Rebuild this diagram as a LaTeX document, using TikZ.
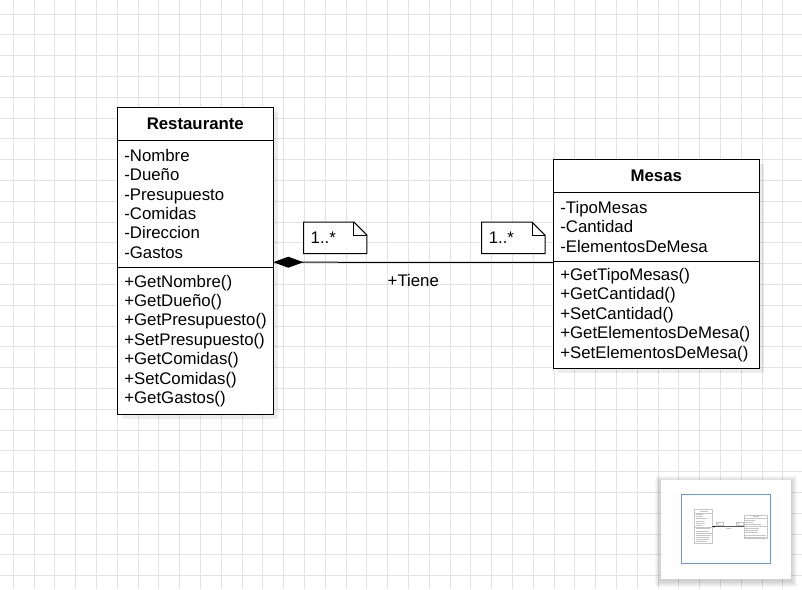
\documentclass[tikz,border=0pt]{standalone}
\usepackage{fontspec}
\setmainfont{Liberation Sans}
\usetikzlibrary{arrows.meta,positioning,backgrounds}
\definecolor{gridgray}{HTML}{E3E3E3}
\definecolor{viewblue}{HTML}{6A9AD0}
\definecolor{minigray}{HTML}{C6C6C6}
\newcommand{\umlfont}{\fontsize{16.8pt}{19.4pt}\selectfont}
\tikzset{
 gridline/.style={draw=gridgray,line width=1pt},
 classhead/.style={draw=black,fill=white,line width=1pt,minimum height=33pt,inner sep=0pt,
   outer sep=0pt,font=\umlfont\bfseries},
 classbody/.style={draw=black,fill=white,line width=1pt,align=left,inner xsep=7pt,inner ysep=0pt,
   outer sep=0pt},
 notebox/.style={minimum width=63pt,minimum height=31pt,text width=49pt,inner xsep=7pt,align=left},
 noteline/.style={draw=black,fill=white,line width=1pt},
 compos/.style={{Diamond[length=30pt,width=11pt]}-,line width=1pt,draw=black},
 boxshadow/.style={fill=black,opacity=0.07},
 ministub/.style={draw=minigray,line width=0.8pt},
 minibox/.style={draw=minigray,line width=0.6pt}
}

\begin{document}
\begin{tikzpicture}[x=1pt,y=-1pt,font=\umlfont]
 \useasboundingbox (0,0) rectangle (802,589);
 % classes
 \node[classhead,minimum width=156pt] (resthead) at (195.3,123.7) {Restaurante};
 \node[classbody,below=0pt of resthead,text width=142pt,minimum height=127.3pt] (restattr)
   {-Nombre\\-Dueño\\-Presupuesto\\-Comidas\\-Direccion\\-Gastos};
 \node[classbody,below=0pt of restattr,text width=142pt,minimum height=146.7pt] (restmeth)
   {+GetNombre()\\+GetDueño()\\+GetPresupuesto()\\+SetPresupuesto()\\+GetComidas()\\+SetComidas()\\+GetGastos()};
 \node[classhead,minimum width=206pt] (mesashead) at (656.3,175.7) {Mesas};
 \node[classbody,below=0pt of mesashead,text width=192pt,minimum height=69.4pt] (mesasattr)
   {-TipoMesas\\-Cantidad\\-ElementosDeMesa};
 \node[classbody,below=0pt of mesasattr,text width=192pt,minimum height=106.6pt] (mesasmeth)
   {+GetTipoMesas()\\+GetCantidad()\\+SetCantidad()\\+GetElementosDeMesa()\\+SetElementosDeMesa()};
 % association
 \node[notebox] (lnote) at (335.2,237.8) {1..*};
 \node[notebox] (rnote) at (513.3,237.8) {1..*};
 \draw[compos] ([yshift=5.3pt]restattr.south east) -- ([yshift=-0.8pt]mesasattr.south west)
   node[midway,yshift=-18pt] (tiene) {+Tiene};
 % outline view
 \node[fill=white,minimum width=130pt,minimum height=99pt,inner sep=0pt,outer sep=0pt] (minimap) at (726,529.5) {};
 \node[draw=viewblue,line width=1pt,minimum width=89.4pt,minimum height=69pt,inner sep=0pt] (viewport) at (726,529) {};
 \begin{scope}[shift={(681.5,497)},scale=0.113]
  \draw[minibox] (117.3,107.3) rectangle (273.3,414) (117.3,140) -- (273.3,140) (117.3,267.3) -- (273.3,267.3);
  \draw[minibox] (553.3,159) rectangle (759.3,368.3) (553.3,192.3) -- (759.3,192.3) (553.3,261.7) -- (759.3,261.7);
  \draw[minibox] (304.3,222.3) rectangle (366,253.3) (481,222.3) rectangle (545.7,253.3);
  \draw[ministub] (160,123.7) -- (231,123.7) (630,175.7) -- (683,175.7)
    (311,237) -- ++(25,0) (488,237) -- ++(25,0) (390,280) -- ++(47,0);
  \foreach \y/\l in {154/65,173.5/55,193/105,212.4/75,231.8/82,251.2/60,281.7/130,300.9/120,
    320.1/143,339.3/140,358.5/118,377.7/115,396.9/102}
   \draw[ministub] (124,\y) -- ++(\l,0);
  \foreach \y/\l in {206.7/90,226.2/75,245.7/145,276.7/130,296.3/115,315.9/115,335.5/188,355.1/188}
   \draw[ministub] (560,\y) -- ++(\l,0);
  \draw[line width=0.5pt] (273.3,262) -- (553.3,262.5);
  \fill (273.3,262) -- (288,256) -- (303,262) -- (288,268) -- cycle;
 \end{scope}
 \begin{scope}[on background layer]
  \fill[white] (0,0) rectangle (802,589);
  \foreach \k in {0,...,37} \draw[gridline] ({13.3+20.8*\k},0) -- ({13.3+20.8*\k},589);
  \foreach \k in {0,...,27} \draw[gridline] (0,{14+20.8*\k}) -- (802,{14+20.8*\k});
  \fill[boxshadow] ([shift={(5,5)}]resthead.north west) rectangle ([shift={(5,5)}]restmeth.south east);
  \fill[boxshadow] ([shift={(5,5)}]mesashead.north west) rectangle ([shift={(5,5)}]mesasmeth.south east);
  \foreach \i in {1,...,6}
   \fill[black,opacity=0.03] ([shift={(-\i,-\i+2)}]minimap.north west) rectangle ([shift={(\i,\i+2)}]minimap.south east);
  \foreach \n in {lnote,rnote} {
   \draw[noteline] (\n.north west) -- ([xshift=-13pt]\n.north east) -- ([yshift=-13pt]\n.north east)
     -- (\n.south east) -- (\n.south west) -- cycle;
   \draw[noteline,fill=none] ([xshift=-13pt]\n.north east) -- ([xshift=-13pt,yshift=-13pt]\n.north east)
     -- ([yshift=-13pt]\n.north east);
  }
 \end{scope}
\end{tikzpicture}
\end{document}
